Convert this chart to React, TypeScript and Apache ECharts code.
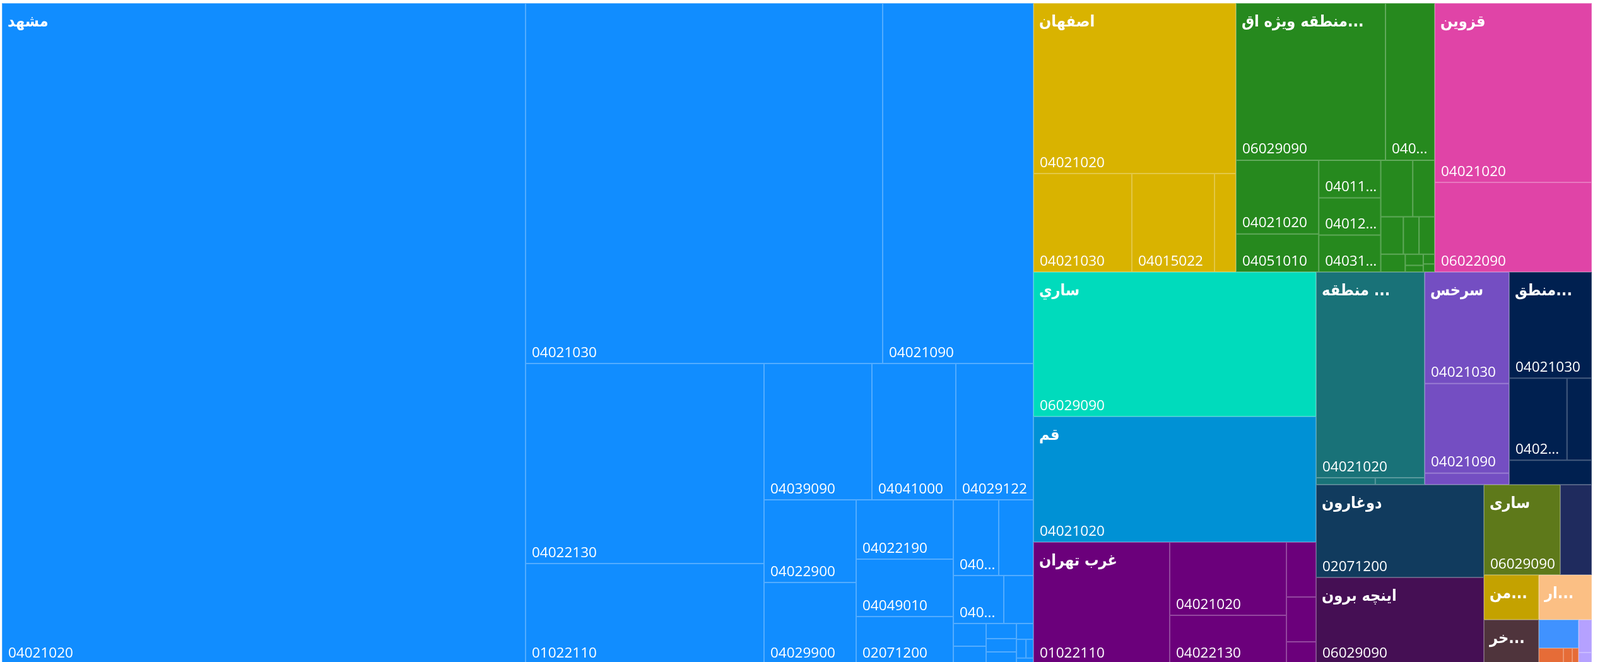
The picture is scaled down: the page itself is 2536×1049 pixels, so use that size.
import React, { useEffect, useRef } from "react";
import * as echarts from "echarts";

// ---- Top-level groups (customs offices) ----
const groupNames = [
  "مشهد",
  "اصفهان",
  "منطقه ويژه اقتصادي نوشهر",
  "قزوين",
  "ساري",
  "قم",
  "غرب تهران",
  "منطقه ويژه اقتصادي پيام",
  "سرخس",
  "منطقه آزاد انزلي",
  "دوغارون",
  "اينچه برون",
  "سارى",
  "بازرگان",
  "منطقه آزاد چابهار",
  "خرمشهر",
  "اروميه",
  "تبريز",
  "شيراز",
  "كرمان",
];

const groupColors = [
  "#118DFF", "#D9B300", "#26891E", "#E044A7", "#00DBBC",
  "#0091D5", "#6B007B", "#197278", "#744EC2", "#002050",
  "#113B5E", "#450F54", "#5E791A", "#1F2B5E", "#C4A200",
  "#4F343C", "#FBBF84", "#4092FF", "#E66C37", "#B5A1FF",
];

// ---- Children (tariff codes) per group ----
const mashhadCodes = ["04021020", "04021030", "04021090", "04022130", "01022110", "04039090", "04041000", "04029122", "04022900", "04029900", "04022190", "04049010", "02071200", "04061010", "04059000", "04069000", "04063000", "04021010", "04022110", "04051000", "04039010", "04022990", "04049090", "04029110", "04069010", "04029190"];
const mashhadValues = [869010, 323186, 136469, 119826, 60102, 36936, 28728, 26568, 19126, 18834, 14476, 14014, 11550, 8640, 6600, 6080, 3572, 1872, 1456, 1152, 1008, 912, 675, 450, 350, 250];

const isfahanCodes = ["04021020", "04021030", "04015022", "04022130"];
const isfahanValues = [86670, 24336, 20436, 5304];

const nowshahrCodes = ["06029090", "04021030", "04021020", "04051010", "04011000", "04012000", "04031000", "04022130", "04039090", "04022190", "04029900", "04041000", "01022110", "04049010", "04022900", "04059000", "02071200"];
const nowshahrValues = [59013, 19422, 15312, 7920, 5850, 5800, 5750, 4539, 3115, 2124, 1475, 1475, 1092, 504, 300, 280, 230];

const qazvinCodes = ["04021020", "06022090"];
const qazvinValues = [70716, 35358];

const sariCodes = ["06029090"];
const sariValues = [102592];

const qomCodes = ["04021020"];
const qomValues = [89152];

const gharbTehranCodes = ["01022110", "04021020", "04022130", "04021030", "04022190", "04039090"];
const gharbTehranValues = [41688, 21460, 14245, 4089, 3337, 1645];

const payamCodes = ["04021020", "04021030", "04022130"];
const payamValues = [56072, 1032, 860];

const sarakhsCodes = ["04021030", "04021090", "04021020"];
const sarakhsValues = [23700, 19030, 2430];

const anzaliCodes = ["04021030", "04021020", "04022130", "04021090"];
const anzaliValues = [22047, 11921, 5109, 5070];

const dogharunCodes = ["02071200"];
const dogharunValues = [39102];

const inchehCodes = ["06029090"];
const inchehValues = [36442];

const sari2Codes = ["06029090"];
const sari2Values = [17303];

const bazarganCodes = ["04021020"];
const bazarganValues = [7150];

const chabaharCodes = ["04021020"];
const chabaharValues = [6177];

const khorramCodes = ["04021030"];
const khorramValues = [6090];

const urmiaCodes = ["04021020"];
const urmiaValues = [5964];

const tabrizCodes = ["04021020"];
const tabrizValues = [2835];

const shirazCodes = ["04021020", "04022130", "04021030"];
const shirazValues = [975, 350, 250];

const kermanCodes = ["04021020", "04021030"];
const kermanValues = [1092, 378];

const groupCodes = [
  mashhadCodes, isfahanCodes, nowshahrCodes, qazvinCodes, sariCodes,
  qomCodes, gharbTehranCodes, payamCodes, sarakhsCodes, anzaliCodes,
  dogharunCodes, inchehCodes, sari2Codes, bazarganCodes, chabaharCodes,
  khorramCodes, urmiaCodes, tabrizCodes, shirazCodes, kermanCodes,
];
const groupValues = [
  mashhadValues, isfahanValues, nowshahrValues, qazvinValues, sariValues,
  qomValues, gharbTehranValues, payamValues, sarakhsValues, anzaliValues,
  dogharunValues, inchehValues, sari2Values, bazarganValues, chabaharValues,
  khorramValues, urmiaValues, tabrizValues, shirazValues, kermanValues,
];

const CODE_FONT = "'Open Sans', 'Noto Sans', 'DejaVu Sans', sans-serif";
const NAME_FONT = "'DejaVu Sans Condensed', 'DejaVu Sans', sans-serif";
// groups too small to carry a code label under their name
const MIN_GROUP_FOR_CODES = 10000;

export default function App() {
  const ref = useRef<HTMLDivElement>(null);

  useEffect(() => {
    if (!ref.current) return;
    const chart = echarts.init(ref.current, undefined, { renderer: "svg" });

    const mainData = groupNames.map((name, i) => {
      const total = groupValues[i].reduce((a, b) => a + b, 0);
      return {
        name,
        itemStyle: { color: groupColors[i], borderColor: groupColors[i] },
        children: groupCodes[i].map((code, j) => ({
          name: code,
          value: groupValues[i][j],
          label: { show: total >= MIN_GROUP_FOR_CODES },
        })),
      };
    });

    const overlayData = groupNames.map((name, i) => ({
      name,
      value: groupValues[i].reduce((a, b) => a + b, 0),
      itemStyle: { color: "rgba(0,0,0,0)", borderColor: "rgba(0,0,0,0)" },
    }));

    const rect = { left: 3, top: 5, width: 2520, height: 1047 };

    chart.setOption({
      animation: false,
      series: [
        {
          type: "treemap",
          ...rect,
          roam: false,
          nodeClick: false,
          breadcrumb: { show: false },
          animation: false,
          label: {
            show: true,
            position: "insideBottomLeft",
            color: "#ffffff",
            fontFamily: CODE_FONT,
            fontSize: 22.5,
            lineHeight: 34,
            distance: 0,
            padding: [12, 0, 1, 9],
            overflow: "truncate",
            ellipsis: "...",
          },
          labelLayout: (p: any) =>
            p.rect && (p.rect.width < 53 || p.rect.height < 45) ? { fontSize: 0 } : {},
          upperLabel: { show: false },
          itemStyle: { borderWidth: 0, gapWidth: 0 },
          levels: [
            { itemStyle: { borderWidth: 0, gapWidth: 0 } },
            { itemStyle: { borderWidth: 0, gapWidth: 0 } },
            {
              itemStyle: {
                borderWidth: 1,
                gapWidth: 0,
                borderColor: "rgba(255,255,255,0.28)",
              },
            },
          ],
          data: mainData,
        },
        {
          type: "treemap",
          ...rect,
          z: 5,
          silent: true,
          roam: false,
          nodeClick: false,
          breadcrumb: { show: false },
          animation: false,
          label: {
            show: true,
            position: "insideTopLeft",
            color: "#ffffff",
            fontFamily: NAME_FONT,
            fontWeight: "bold",
            fontSize: 25,
            lineHeight: 36,
            distance: 0,
            padding: [10, 6, 4, 9],
            overflow: "truncate",
            ellipsis: "...",
          },
          labelLayout: (p: any) =>
            p.rect && p.rect.width < 60 ? { fontSize: 0 } : {},
          itemStyle: {
            color: "rgba(0,0,0,0)",
            borderColor: "rgba(0,0,0,0)",
            borderWidth: 0,
            gapWidth: 0,
          },
          levels: [
            { itemStyle: { borderWidth: 0, gapWidth: 0 } },
            { itemStyle: { borderWidth: 0, gapWidth: 0 } },
          ],
          data: overlayData,
        },
      ],
    });

    return () => chart.dispose();
  }, []);

  return (
    <div
      ref={ref}
      style={{ position: "fixed", left: 0, top: 0, width: "2536px", height: "1049px" }}
    />
  );
}
